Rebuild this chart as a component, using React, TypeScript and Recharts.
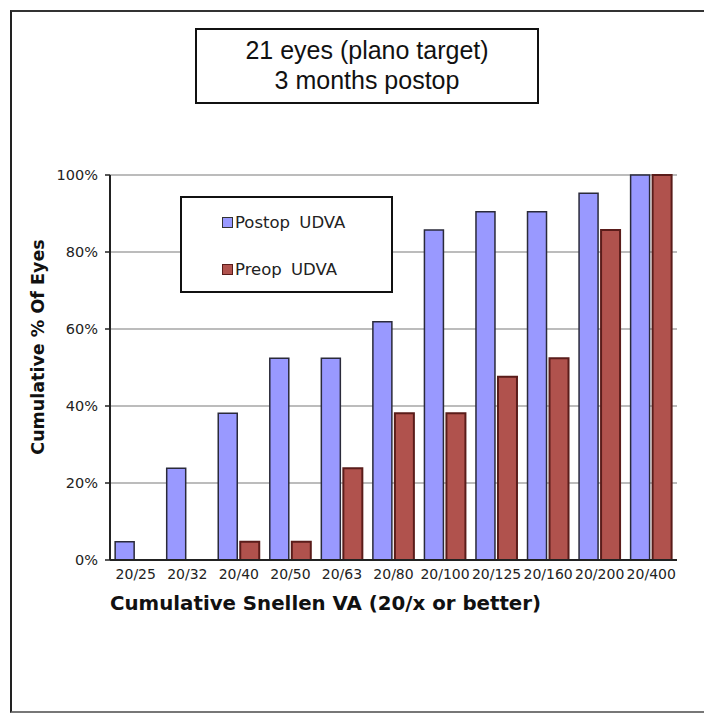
import { BarChart, Bar, XAxis, YAxis, CartesianGrid, Legend } from "recharts";

// Snellen categories (cumulative, 20/x or better)
const categories = ["20/25", "20/32", "20/40", "20/50", "20/63", "20/80", "20/100", "20/125", "20/160", "20/200", "20/400"];

// 21 eyes -> values are multiples of 1/21
const postopUdva = [4.76, 23.81, 38.1, 52.38, 52.38, 61.9, 85.71, 90.48, 90.48, 95.24, 100];
const preopUdva = [0, 0, 4.76, 4.76, 23.81, 38.1, 38.1, 47.62, 52.38, 85.71, 100];

const yTicks = [0, 20, 40, 60, 80, 100];

const titleLines = ["21 eyes (plano target)", "3 months postop"];
const xTitle = "Cumulative Snellen VA (20/x or better)";
const yTitle = "Cumulative % Of Eyes";

const POSTOP = "#9999ff";
const PREOP = "#b0524d";
const FRAME_GREY = "#8e8e8e";

const chartData = categories.map((label, i) => ({
  label,
  edge: i,
  postop: postopUdva[i],
  preop: preopUdva[i],
}));

const edgeTicks = [...categories.map((_, i) => i), categories.length];

function LegendBox() {
  const items = [
    { name: "Postop UDVA", fill: POSTOP, stroke: "#333" },
    { name: "Preop UDVA", fill: PREOP, stroke: "#5a1c1a" },
  ];
  return (
    <div
      style={{
        width: 213,
        height: 97,
        boxSizing: "border-box",
        border: "2px solid #111",
        background: "#fff",
        position: "relative",
      }}
    >
      {items.map((it, i) => (
        <div
          key={it.name}
          style={{
            position: "absolute",
            left: 40,
            top: i === 0 ? 13 : 60,
            height: 22,
            display: "flex",
            alignItems: "center",
            fontFamily: "DejaVu Sans",
            fontSize: 16.5,
            wordSpacing: 4,
            color: "#222",
            whiteSpace: "nowrap",
          }}
        >
          <span
            style={{
              display: "inline-block",
              width: 9,
              height: 9,
              background: it.fill,
              border: `1px solid ${it.stroke}`,
              marginRight: 2,
            }}
          />
          {it.name}
        </div>
      ))}
    </div>
  );
}

export default function App() {
  return (
    <div
      style={{
        position: "absolute",
        left: 0,
        top: 0,
        width: 704,
        height: 715,
        background: "#fff",
        overflow: "hidden",
      }}
    >
      {/* outer frame */}
      <div
        style={{
          position: "absolute",
          left: 10,
          top: 10,
          width: 720,
          height: 703,
          boxSizing: "border-box",
          borderLeft: "2px solid #222",
          borderTop: "2px solid #333",
          borderBottom: "2px solid #777",
        }}
      />

      {/* title box */}
      <div
        style={{
          position: "absolute",
          left: 195,
          top: 28,
          width: 344,
          height: 76,
          boxSizing: "border-box",
          border: "2px solid #111",
          fontFamily: "Liberation Sans",
          fontSize: 25,
          lineHeight: "30px",
          color: "#111",
          textAlign: "center",
          paddingTop: 5,
        }}
      >
        {titleLines.map((t) => (
          <div key={t}>{t}</div>
        ))}
      </div>

      <BarChart
        width={704}
        height={715}
        data={chartData}
        margin={{ top: 175, right: 27, bottom: 125, left: 58 }}
        barCategoryGap="10%"
        barGap={3}
        style={{ position: "absolute", left: 0, top: 0 }}
      >
        <CartesianGrid vertical={false} stroke="#a6a6a6" strokeWidth={1.5} />
        <XAxis
          xAxisId="top"
          orientation="top"
          dataKey="label"
          height={0}
          tick={false}
          tickLine={false}
          axisLine={{ stroke: FRAME_GREY, strokeWidth: 3 }}
        />
        <YAxis
          yAxisId="frame"
          orientation="right"
          width={0}
          domain={[0, 100]}
          tick={false}
          tickLine={false}
          axisLine={{ stroke: FRAME_GREY, strokeWidth: 3 }}
        />
        <XAxis
          xAxisId="edges"
          type="number"
          dataKey="edge"
          domain={[0, categories.length]}
          ticks={edgeTicks}
          allowDataOverflow
          height={0}
          tick={false}
          axisLine={false}
          tickSize={5}
          tickLine={{ stroke: "#222", strokeWidth: 1.5 }}
        />
        <XAxis
          dataKey="label"
          interval={0}
          height={30}
          tickLine={false}
          tickSize={5}
          tickMargin={4}
          axisLine={{ stroke: "#222", strokeWidth: 2 }}
          tick={{ fontFamily: "DejaVu Sans", fontSize: 14, fill: "#222" }}
        />
        <YAxis
          width={52}
          domain={[0, 100]}
          ticks={yTicks}
          tickFormatter={(v: number) => `${v}%`}
          tickSize={5}
          tickMargin={7}
          axisLine={{ stroke: "#222", strokeWidth: 2 }}
          tickLine={{ stroke: "#222", strokeWidth: 1.5 }}
          tick={{ fontFamily: "DejaVu Sans", fontSize: 14.5, fill: "#222" }}
        />
        <Legend
          layout="vertical"
          align="center"
          verticalAlign="middle"
          wrapperStyle={{ left: 180, top: 196, width: 213, height: 97 }}
          content={() => <LegendBox />}
        />
        <Bar
          dataKey="postop"
          name="Postop UDVA"
          fill={POSTOP}
          stroke="#2a2a3a"
          strokeWidth={1.5}
          isAnimationActive={false}
        />
        <Bar
          dataKey="preop"
          name="Preop UDVA"
          fill={PREOP}
          stroke="#5a1c1a"
          strokeWidth={2}
          isAnimationActive={false}
        />
      </BarChart>

      {/* axis titles */}
      <div
        style={{
          position: "absolute",
          left: 110,
          top: 592,
          fontFamily: "DejaVu Sans",
          fontWeight: "bold",
          fontSize: 19.8,
          color: "#111",
          whiteSpace: "nowrap",
        }}
      >
        {xTitle}
      </div>
      <div
        style={{
          position: "absolute",
          left: 38,
          top: 347,
          transform: "translate(-50%, -50%) rotate(-90deg)",
          fontFamily: "DejaVu Sans",
          fontWeight: "bold",
          fontSize: 17.5,
          color: "#111",
          whiteSpace: "nowrap",
        }}
      >
        {yTitle}
      </div>
    </div>
  );
}
